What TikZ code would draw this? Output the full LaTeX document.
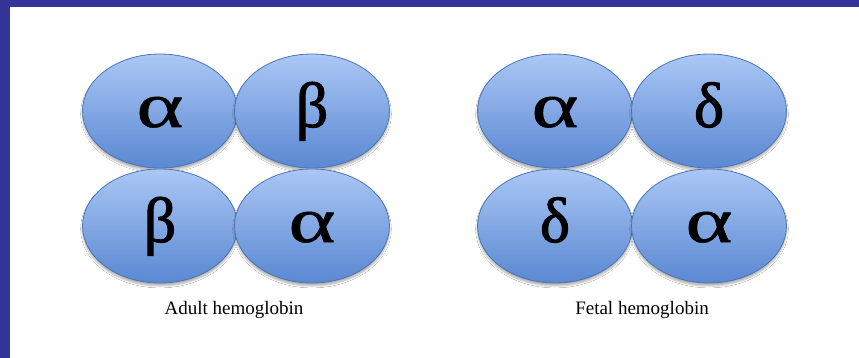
\documentclass[tikz,border=0pt]{standalone}
\usepackage{fontspec}
\setmainfont{Liberation Serif}
\newfontfamily\greekheavy[FakeBold=1.6]{Liberation Serif}
\newfontfamily\greekmid[FakeBold=0.8]{Liberation Serif}
\usetikzlibrary{shapes.geometric,shadows.blur}
\definecolor{frameblue}{HTML}{34349A}
\definecolor{subtop}{HTML}{AAC7F5}
\definecolor{subbot}{HTML}{5A88D2}
\definecolor{subline}{HTML}{4C74B4}
\newcommand{\galpha}{{\greekmid\scalebox{1.4}[1]{α}}}
\newcommand{\gbeta}{{\greekheavy β}}
\newcommand{\gdelta}{{\greekheavy δ}}
\tikzset{
  subunit/.style={ellipse, minimum width=155pt, minimum height=114pt, inner sep=0pt,
    draw=subline, line width=0.8pt, top color=subtop, bottom color=subbot,
    blur shadow={shadow xshift=0pt, shadow yshift=-3pt, shadow blur steps=6, shadow opacity=30},
    text height=40pt, text depth=8pt,
    font=\fontsize{64}{64}\selectfont},
  caption/.style={font=\fontsize{19}{22}\selectfont, text=black, inner sep=0pt}
}
\begin{document}
\begin{tikzpicture}[x=1pt,y=-1pt]
\useasboundingbox (0,0) rectangle (859,358);
\fill[frameblue] (0,0) rectangle (859,358);
\fill[white] (10,7) rectangle (859,358);
% Adult
\node[subunit] (a1) at (160,111) {\galpha};
\node[subunit] (a2) at (312,111) {\gbeta};
\node[subunit] (a3) at (160,226) {\gbeta};
\node[subunit] (a4) at (312,226) {\galpha};
\node[caption] (alab) at (234,310) {Adult hemoglobin};
% Fetal
\node[subunit] (f1) at (555,111) {\galpha};
\node[subunit] (f2) at (709,111) {\gdelta};
\node[subunit] (f3) at (555,226) {\gdelta};
\node[subunit] (f4) at (709,226) {\galpha};
\node[caption] (flab) at (642,310) {Fetal hemoglobin};
\end{tikzpicture}
\end{document}
